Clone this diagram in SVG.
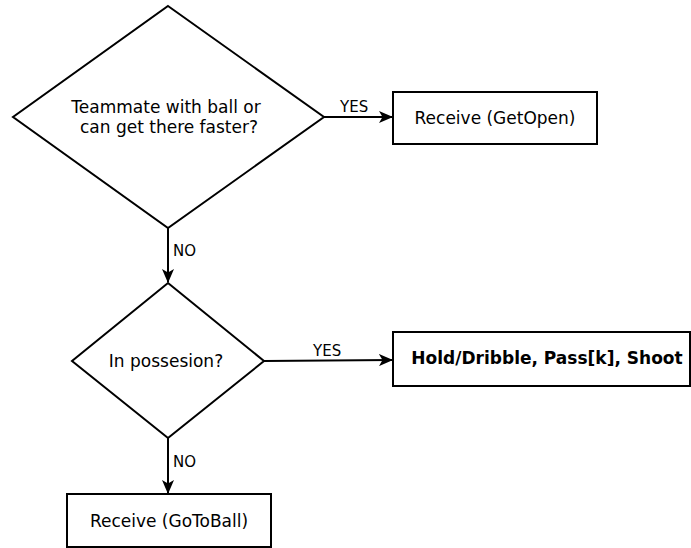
<svg xmlns="http://www.w3.org/2000/svg" width="691" height="548" viewBox="0 0 691 548">
  <style>
    .shape { fill: #ffffff; stroke: #000000; stroke-width: 2; }
    .edge { fill: none; stroke: #000000; stroke-width: 2; }
    .txt { font-family: "DejaVu Sans", sans-serif; font-size: 17px; fill: #000000; text-anchor: middle; }
    .bold { font-weight: bold; }
    .lbl { font-family: "DejaVu Sans", sans-serif; font-size: 15px; fill: #000000; }
  </style>
  <defs>
    <marker id="arrow" viewBox="0 0 14 12" refX="13" refY="6" markerWidth="14" markerHeight="12" markerUnits="userSpaceOnUse" orient="auto">
      <path d="M0,0 L14,6 L0,12 L3.5,6 Z" fill="#000000"/>
    </marker>
  </defs>
  <rect width="691" height="548" fill="#ffffff"/>

  <g id="decision-teammate">
    <polygon class="shape" points="168,6 324,117 168,228 13,117"/>
    <text class="txt" x="166" y="113">Teammate with ball or</text>
    <text class="txt" x="169" y="133">can get there faster?</text>
  </g>

  <g id="receive-getopen">
    <rect class="shape" x="393" y="92" width="204" height="52"/>
    <text class="txt" x="495" y="124">Receive (GetOpen)</text>
  </g>

  <g id="decision-possession">
    <polygon class="shape" points="168,283 264,361 168,438 72,361"/>
    <text class="txt" x="166" y="367">In possesion?</text>
  </g>

  <g id="action-ball">
    <rect class="shape" x="393" y="332" width="297" height="54"/>
    <text class="txt bold" x="547" y="364">Hold/Dribble, Pass[k], Shoot</text>
  </g>

  <g id="receive-gotoball">
    <rect class="shape" x="67" y="494" width="204" height="53"/>
    <text class="txt" x="169" y="527">Receive (GoToBall)</text>
  </g>

  <g id="connectors">
    <line class="edge" x1="324" y1="117" x2="392" y2="117" marker-end="url(#arrow)"/>
    <text class="lbl" x="340" y="112">YES</text>
    <line class="edge" x1="168" y1="228" x2="168" y2="282" marker-end="url(#arrow)"/>
    <text class="lbl" x="173" y="256">NO</text>
    <line class="edge" x1="264" y1="361" x2="392" y2="360" marker-end="url(#arrow)"/>
    <text class="lbl" x="313" y="356">YES</text>
    <line class="edge" x1="168" y1="438" x2="168" y2="493" marker-end="url(#arrow)"/>
    <text class="lbl" x="173" y="467">NO</text>
  </g>
</svg>
